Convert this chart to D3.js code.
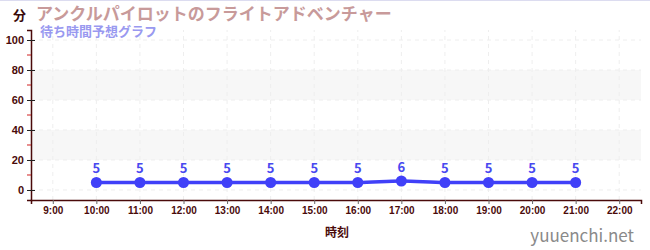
<!DOCTYPE html>
<html>
<head>
<meta charset="utf-8">
<script src="https://cdn.jsdelivr.net/npm/d3@7"></script>
<style>
body { margin: 0; background: #fff; }
svg { display: block; font-family: "Noto Sans CJK JP", "Noto Sans", sans-serif; }
</style>
</head>
<body>
<script>
// data
var hours = [10, 11, 12, 13, 14, 15, 16, 17, 18, 19, 20, 21];
var waits = [5, 5, 5, 5, 5, 5, 5, 6, 5, 5, 5, 5];
var xTicks = [9, 10, 11, 12, 13, 14, 15, 16, 17, 18, 19, 20, 21, 22];
var yTicks = [0, 20, 40, 60, 80, 100];
var bands = [[20, 40], [60, 80]];

var W = 650, H = 250;
var svg = d3.select("body").append("svg").attr("width", W).attr("height", H);

var x = d3.scaleLinear().domain([8.5, 22.5]).range([31, 641]);
var y = d3.scaleLinear().domain([-6.67, 106.67]).range([200, 30]);

svg.append("line").attr("x1", 0).attr("x2", W).attr("y1", 0.5).attr("y2", 0.5)
	.attr("stroke", "#dcdcf0");

// bands
svg.selectAll(".band").data(bands).enter().append("rect")
	.attr("x", x(8.5)).attr("width", x(22.5) - x(8.5))
	.attr("y", function (d) { return y(d[1]); })
	.attr("height", function (d) { return y(d[0]) - y(d[1]); })
	.attr("fill", "#f7f7f7");

// grid
svg.selectAll(".hg").data(yTicks).enter().append("line")
	.attr("x1", x(8.5)).attr("x2", x(22.5))
	.attr("y1", function (d) { return y(d); }).attr("y2", function (d) { return y(d); })
	.attr("stroke", "#eeeeee").attr("stroke-dasharray", "4,4");
svg.selectAll(".vg").data(xTicks).enter().append("line")
	.attr("y1", y(-6.67)).attr("y2", y(106.67))
	.attr("x1", function (d) { return x(d); }).attr("x2", function (d) { return x(d); })
	.attr("stroke", "#eeeeee").attr("stroke-dasharray", "4,4");

// y axis
var yAxis = svg.append("g").attr("transform", "translate(31,0)")
	.call(d3.axisLeft(y).tickValues(yTicks).tickSize(4).tickPadding(3));
yAxis.select(".domain").attr("stroke", "#4a0a0a").attr("stroke-width", 1.5);
yAxis.selectAll(".tick line").attr("stroke", "#222").attr("x2", 4).attr("x1", -4);
yAxis.selectAll("text").attr("fill", "#4a0a0a").attr("font-size", 11).attr("font-weight", "bold");
svg.append("g").selectAll("line").data([10, 30, 50, 70, 90]).enter().append("line")
	.attr("x1", 27).attr("x2", 31)
	.attr("y1", function (d) { return y(d); }).attr("y2", function (d) { return y(d); })
	.attr("stroke", "#d02020");

// x axis
var xAxis = svg.append("g").attr("transform", "translate(0,200)")
	.call(d3.axisBottom(x).tickValues(xTicks).tickSize(4).tickPadding(3)
		.tickFormat(function (d) { return d + ":00"; }));
xAxis.select(".domain").attr("stroke", "#4a0a0a").attr("stroke-width", 1.5);
xAxis.selectAll(".tick line").attr("stroke", "#666");
xAxis.selectAll("text").attr("fill", "#4a0a0a").attr("font-size", 10).attr("font-weight", "bold");

// line
var line = d3.line()
	.x(function (d, i) { return x(hours[i]); })
	.y(function (d) { return y(d); })
	.curve(d3.curveMonotoneX);
svg.append("path").datum(waits).attr("d", line)
	.attr("fill", "none").attr("stroke", "#4040f8").attr("stroke-width", 3.5);
svg.selectAll(".dot").data(waits).enter().append("circle")
	.attr("cx", function (d, i) { return x(hours[i]); })
	.attr("cy", function (d) { return y(d); })
	.attr("r", 5.5).attr("fill", "#4040f8");
svg.selectAll(".lbl").data(waits).enter().append("text")
	.attr("x", function (d, i) { return x(hours[i]); })
	.attr("y", function (d) { return y(d) - 9; })
	.attr("text-anchor", "middle")
	.attr("font-size", 13).attr("font-weight", "bold").attr("fill", "#4848f0")
	.text(function (d) { return d; });

// titles
svg.append("text").attr("x", 13).attr("y", 20).attr("font-size", 13).attr("font-weight", "bold")
	.attr("fill", "#3a0a0a").text("分");
svg.append("text").attr("x", 36).attr("y", 20).attr("font-size", 17).attr("font-weight", "bold")
	.attr("fill", "#c89a9a").text("アンクルパイロットのフライトアドベンチャー");
svg.append("text").attr("x", 40).attr("y", 36).attr("font-size", 13).attr("font-weight", "bold")
	.attr("fill", "#9999f0").text("待ち時間予想グラフ");
svg.append("text").attr("x", 337).attr("y", 237).attr("text-anchor", "middle")
	.attr("font-size", 12).attr("font-weight", "bold").attr("fill", "#4a0a0a").text("時刻");
svg.append("text").attr("x", 634).attr("y", 242).attr("text-anchor", "end")
	.attr("font-size", 17).attr("fill", "#8a8a8a").text("yuuenchi.net");
</script>
</body>
</html>
